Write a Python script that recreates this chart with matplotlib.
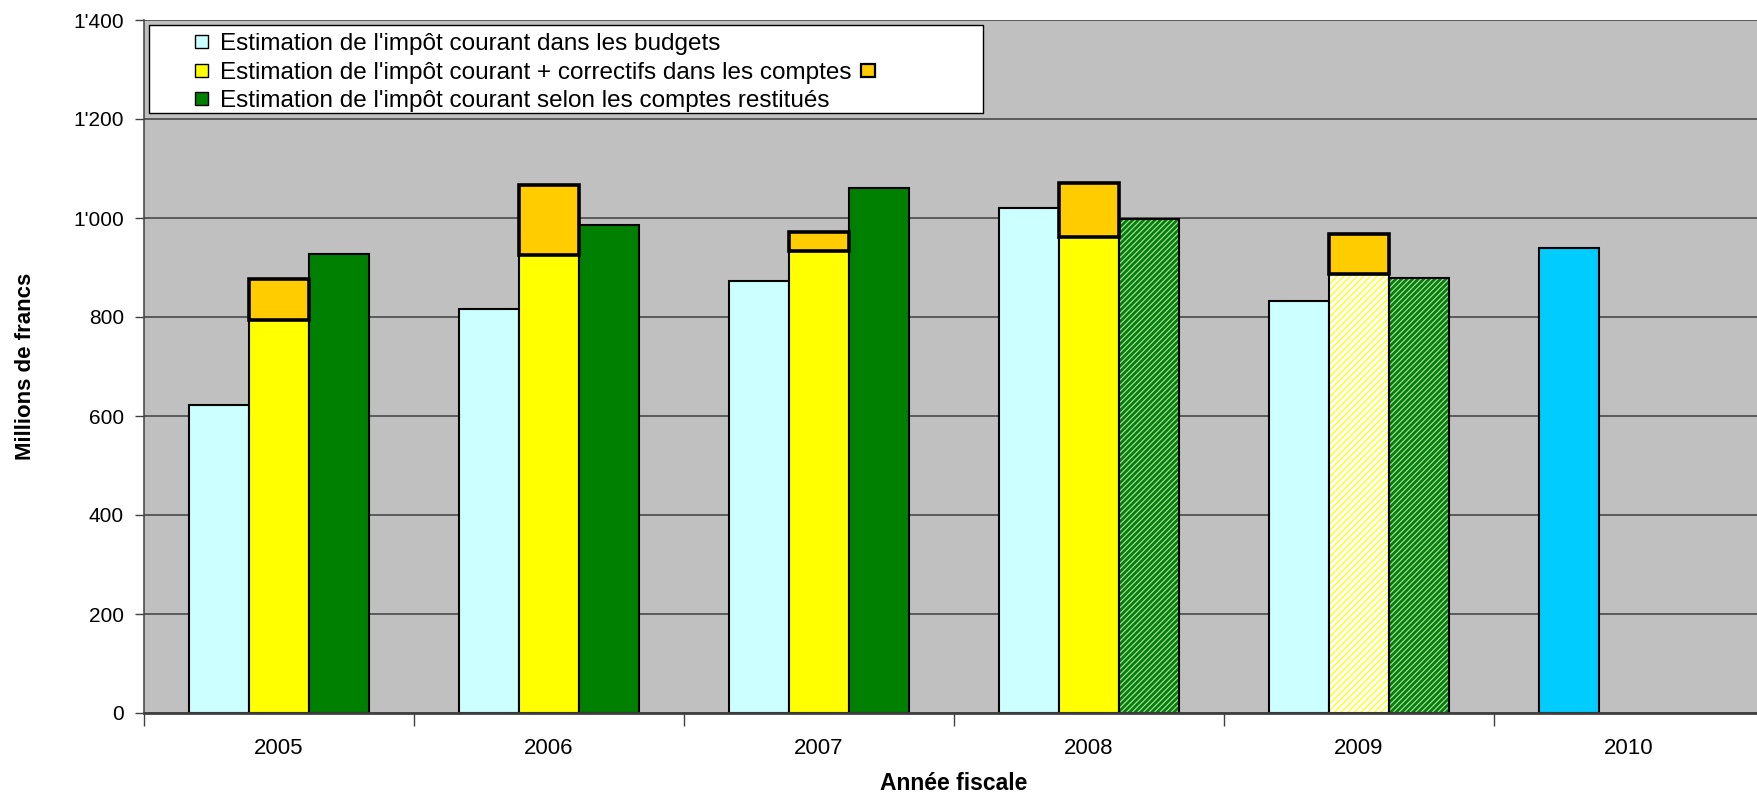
import numpy as np
import matplotlib
matplotlib.use('Agg')
import matplotlib.pyplot as plt
from matplotlib.patches import Rectangle

plt.rcParams['font.family'] = ['Liberation Sans', 'DejaVu Sans']
plt.rcParams['hatch.linewidth'] = 0.9

# data (millions de francs)
years = ['2005', '2006', '2007', '2008', '2009', '2010']
budget = [623, 816, 872, 1021, 833, 940]
comptes = [793, 925, 934, 961, 887, np.nan]
correctifs = [83, 142, 38, 109, 80, np.nan]
restitues = [928, 986, 1061, 997, 879, np.nan]
comptes_hachure = [False, False, False, False, True, False]
restitues_hachure = [False, False, False, True, True, False]
budget_couleur = ['#CCFFFF'] * 5 + ['#00CCFF']

labels = ["Estimation de l'impôt courant dans les budgets",
          "Estimation de l'impôt courant + correctifs dans les comptes",
          "Estimation de l'impôt courant selon les comptes restitués"]

W, H = 1758, 794
fig = plt.figure(figsize=(W / 100, H / 100), dpi=100)
ax = fig.add_axes([144 / W, 81 / H, 1620 / W, 693 / H])
ax.set_facecolor('#C0C0C0')

x = np.arange(len(years)) + 0.5
bw = 0.222
lw = 1.5

# budgets
ax.bar(x - bw, budget, bw, color=budget_couleur, edgecolor='black', lw=lw, zorder=3)

# comptes + correctifs
for i in range(len(years)):
    if np.isnan(comptes[i]):
        continue
    if comptes_hachure[i]:
        ax.bar(x[i], comptes[i], bw, color='white', edgecolor='#FFFF00', hatch='/////', lw=0, zorder=3)
        ax.bar(x[i], comptes[i], bw, fill=False, edgecolor='black', lw=lw, zorder=4)
    else:
        ax.bar(x[i], comptes[i], bw, color='#FFFF00', edgecolor='black', lw=lw, zorder=3)
    ax.bar(x[i], correctifs[i], bw, bottom=comptes[i], color='#FFCC00', edgecolor='black', lw=2.6, zorder=4)

# comptes restitués
for i in range(len(years)):
    if np.isnan(restitues[i]):
        continue
    if restitues_hachure[i]:
        ax.bar(x[i] + bw, restitues[i], bw, color='#008000', edgecolor='#A8D4A8', hatch='//////', lw=0, zorder=3)
        ax.bar(x[i] + bw, restitues[i], bw, fill=False, edgecolor='black', lw=lw, zorder=4)
    else:
        ax.bar(x[i] + bw, restitues[i], bw, color='#008000', edgecolor='black', lw=lw, zorder=3)

# axes
ax.set_xlim(0, 6)
ax.set_ylim(0, 1400)
yt = np.arange(0, 1401, 200)
ax.set_yticks(yt)
ax.set_yticklabels([f"{v:,}".replace(',', "'") for v in yt], fontsize=15)
ax.set_xticks(x)
ax.set_xticklabels(years, fontsize=16)
ax.set_xticks(np.arange(0, 7), minor=True)
ax.tick_params(axis='x', which='major', length=0, pad=18)
ax.tick_params(axis='x', which='minor', length=9.5, width=1, color='#404040', direction='out')
ax.tick_params(axis='y', length=6.5, width=1, color='#404040', pad=8)
ax.grid(axis='y', color='#404040', lw=1.1, zorder=1)
ax.set_axisbelow(True)
for s in ['top', 'right']:
    ax.spines[s].set_visible(False)
ax.spines['left'].set_color('#404040')
ax.spines['left'].set_linewidth(1.1)
ax.spines['bottom'].set_color('#404040')
ax.spines['bottom'].set_linewidth(2)
ax.spines['bottom'].set_zorder(5)

ax.set_ylabel('Millions de francs', fontsize=16, fontweight='bold')
ax.yaxis.set_label_coords(-108 / 1620, 0.5)
fig.text(954 / W, 1 - 784 / H, 'Année fiscale', fontsize=16.5, fontweight='bold',
         ha='center', va='center')

# legend box drawn by hand (Excel style, extra key after 2nd entry)
def fx(px):
    return px / W

def fy(py):
    return 1 - py / H

fig.patches.append(Rectangle((fx(149), fy(113)), fx(983) - fx(149), fy(25) - fy(113),
                             transform=fig.transFigure, facecolor='white',
                             edgecolor='black', lw=1, zorder=10))
rows = [41.5, 70.5, 98.5]
keys = ['#CCFFFF', '#FFFF00', '#008000']
texts = []
for r, c, lab in zip(rows, keys, labels):
    fig.patches.append(Rectangle((fx(195), fy(r + 6.5)), fx(13), 13 / H,
                                 transform=fig.transFigure, facecolor=c,
                                 edgecolor='black', lw=1, zorder=11))
    texts.append(fig.text(fx(220), fy(r), lab, fontsize=17.5, va='center_baseline', zorder=11))

fig.canvas.draw()
bb = texts[1].get_window_extent()
xr = bb.x1 + 10
fig.patches.append(Rectangle((xr / W, fy(rows[1] + 6.5)), 14 / W, 13 / H,
                             transform=fig.transFigure, facecolor='#FFCC00',
                             edgecolor='black', lw=1.6, zorder=11))

fig.savefig('out.png', dpi=100)
